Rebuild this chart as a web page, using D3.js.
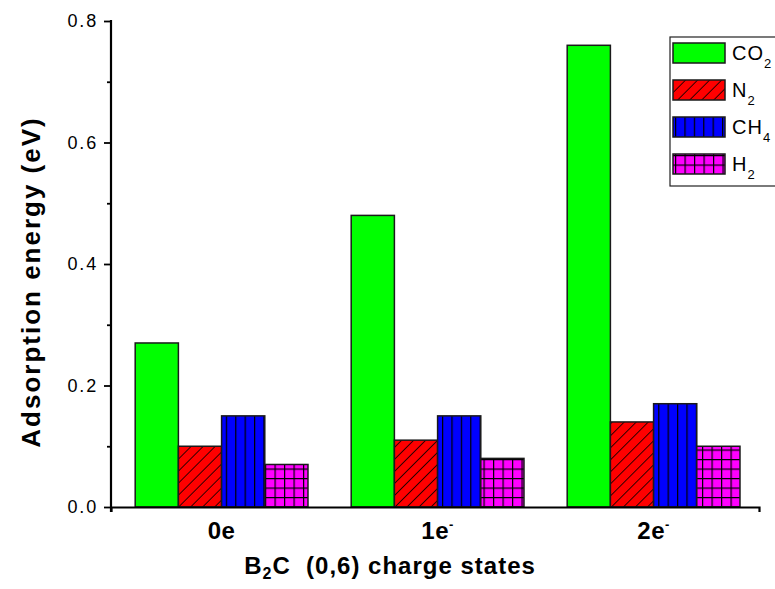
<!DOCTYPE html>
<html>
<head>
<meta charset="utf-8">
<script src="https://cdn.jsdelivr.net/npm/d3@7"></script>
<style>
  body { margin: 0; background: #fff; }
  text { font-family: Arial, "Liberation Sans", sans-serif; }
</style>
</head>
<body>
<div id="chart-region"></div>
<script>
const categories = ["0e", "1e", "2e"];
const catSuper = ["", "-", "-"];
const gases = ["CO2", "N2", "CH4", "H2"];
const co2 = [0.27, 0.48, 0.76];
const n2 = [0.10, 0.11, 0.14];
const ch4 = [0.15, 0.15, 0.17];
const h2 = [0.07, 0.08, 0.10];
const yTicks = [0.0, 0.2, 0.4, 0.6, 0.8];
const yMinor = [0.1, 0.3, 0.5, 0.7];

const margin = { top: 21, right: 16, bottom: 82, left: 111 },
      width = 775 - margin.left - margin.right,
      height = 589 - margin.top - margin.bottom;

const root = d3.select("#chart-region")
  .append("svg")
  .attr("width", 775)
  .attr("height", 589);

/* -------------------- PATTERNS -------------------- */
const defs = root.append("defs");

const pDiag = defs.append("pattern")
  .attr("id", "p-n2")
  .attr("patternUnits", "userSpaceOnUse")
  .attr("width", 8.5).attr("height", 8.5)
  .attr("patternTransform", "rotate(45)");
pDiag.append("rect").attr("width", 8.5).attr("height", 8.5).attr("fill", "#ff0000");
pDiag.append("line").attr("x1", 0).attr("y1", 0).attr("x2", 0).attr("y2", 8.5)
  .attr("stroke", "#000").attr("stroke-width", 1.6);

const pVert = defs.append("pattern")
  .attr("id", "p-ch4")
  .attr("patternUnits", "userSpaceOnUse")
  .attr("width", 9.4).attr("height", 10)
  .attr("x", 2);
pVert.append("rect").attr("width", 9.4).attr("height", 10).attr("fill", "#0000ff");
pVert.append("line").attr("x1", 0.6).attr("y1", 0).attr("x2", 0.6).attr("y2", 10)
  .attr("stroke", "#000").attr("stroke-width", 1.2);

const pGrid = defs.append("pattern")
  .attr("id", "p-h2")
  .attr("patternUnits", "userSpaceOnUse")
  .attr("width", 9.5).attr("height", 9.5)
  .attr("x", 2).attr("y", 1);
pGrid.append("rect").attr("width", 9.5).attr("height", 9.5).attr("fill", "#ff00ff");
pGrid.append("line").attr("x1", 0.6).attr("y1", 0).attr("x2", 0.6).attr("y2", 9.5)
  .attr("stroke", "#000").attr("stroke-width", 1.2);
pGrid.append("line").attr("x1", 0).attr("y1", 0.6).attr("x2", 9.5).attr("y2", 0.6)
  .attr("stroke", "#000").attr("stroke-width", 1.2);

const fills = {
  CO2: "#00ff00",
  N2: "url(#p-n2)",
  CH4: "url(#p-ch4)",
  H2: "url(#p-h2)"
};

const svg = root.append("g")
  .attr("transform", `translate(${margin.left}, ${margin.top})`);

/* -------------------- SCALES -------------------- */
const x0 = d3.scaleBand()
  .domain(categories)
  .range([0, width])
  .paddingInner(0.2)
  .paddingOuter(0.1)
  .align(0.56);

const x1 = d3.scaleBand()
  .domain(gases)
  .range([0, x0.bandwidth()]);

const y = d3.scaleLinear()
  .domain([0, 0.8])
  .range([height, 0]);

const series = { CO2: co2, N2: n2, CH4: ch4, H2: h2 };
const barData = [];
categories.forEach((c, i) => {
  gases.forEach(g => barData.push({ cat: c, gas: g, value: series[g][i] }));
});

/* -------------------- BARS -------------------- */
svg.selectAll("rect.bar")
  .data(barData)
  .join("rect")
  .attr("class", "bar")
  .attr("x", d => x0(d.cat) + x1(d.gas))
  .attr("y", d => y(d.value))
  .attr("width", x1.bandwidth())
  .attr("height", d => y(0) - y(d.value))
  .attr("fill", d => fills[d.gas])
  .attr("stroke", "#1a1a1a")
  .attr("stroke-width", 1.5);

/* -------------------- AXES -------------------- */
const yAxis = svg.append("g")
  .call(d3.axisLeft(y).tickValues(yTicks).tickFormat(d3.format(".1f"))
    .tickSize(7).tickSizeOuter(0).tickPadding(6));
yAxis.select(".domain").remove();
yAxis.selectAll(".tick line").attr("stroke-width", 1.8);
yAxis.selectAll(".tick text")
  .attr("font-size", 18)
  .attr("letter-spacing", 1.8)
  .attr("fill", "#000");

const yMinorAxis = svg.append("g")
  .call(d3.axisLeft(y).tickValues(yMinor).tickFormat("").tickSize(4).tickSizeOuter(0));
yMinorAxis.select(".domain").remove();
yMinorAxis.selectAll(".tick line").attr("stroke-width", 1.8);

// y axis line, runs a bit below the x axis
svg.append("line")
  .attr("x1", 0).attr("x2", 0)
  .attr("y1", y(0.8) - 1).attr("y2", height + 5)
  .attr("stroke", "#000").attr("stroke-width", 2.2);

const xAxis = svg.append("g")
  .attr("transform", `translate(0, ${height})`)
  .call(d3.axisBottom(x0).tickSize(0).tickSizeOuter(5).tickPadding(15));
xAxis.select(".domain").attr("stroke-width", 2.2);
xAxis.selectAll(".tick text")
  .attr("font-size", 24)
  .attr("font-weight", "bold")
  .attr("letter-spacing", 0.5)
  .attr("fill", "#000")
  .each(function (d, i) {
    const t = d3.select(this);
    t.text(null);
    t.append("tspan").text(d);
    if (catSuper[i]) {
      t.append("tspan")
        .attr("font-size", 13)
        .attr("dy", -10)
        .text(catSuper[i]);
    }
  });

/* -------------------- TITLES -------------------- */
const xTitle = root.append("text")
  .attr("x", 390)
  .attr("y", 574)
  .attr("text-anchor", "middle")
  .attr("font-size", 24)
  .attr("font-weight", "bold")
  .attr("letter-spacing", 1);
xTitle.append("tspan").text("B");
xTitle.append("tspan").attr("font-size", 16).attr("dy", 5).text("2");
xTitle.append("tspan").attr("dy", -5).text("C\u00a0 (0,6) charge states");

root.append("text")
  .attr("transform", "translate(40, 282) rotate(-90)")
  .attr("text-anchor", "middle")
  .attr("font-size", 26)
  .attr("font-weight", "bold")
  .attr("letter-spacing", 2)
  .text("Adsorption energy (eV)");

/* -------------------- LEGEND -------------------- */
const legend = root.append("g").attr("transform", "translate(670, 37)");
legend.append("rect")
  .attr("width", 120).attr("height", 149)
  .attr("fill", "#fff")
  .attr("stroke", "#222")
  .attr("stroke-width", 1.2);

const legendLabels = [["CO", "2"], ["N", "2"], ["CH", "4"], ["H", "2"]];
gases.forEach((g, i) => {
  const row = legend.append("g").attr("transform", `translate(3, ${6 + i * 37})`);
  row.append("rect")
    .attr("width", 52).attr("height", 20)
    .attr("fill", fills[g])
    .attr("stroke", "#1a1a1a")
    .attr("stroke-width", 1.5);
  const t = row.append("text")
    .attr("x", 59).attr("y", 17)
    .attr("font-size", 20)
    .attr("letter-spacing", 1);
  t.append("tspan").text(legendLabels[i][0]);
  t.append("tspan").attr("font-size", 13).attr("dy", 8).text(legendLabels[i][1]);
});
</script>
</body>
</html>
